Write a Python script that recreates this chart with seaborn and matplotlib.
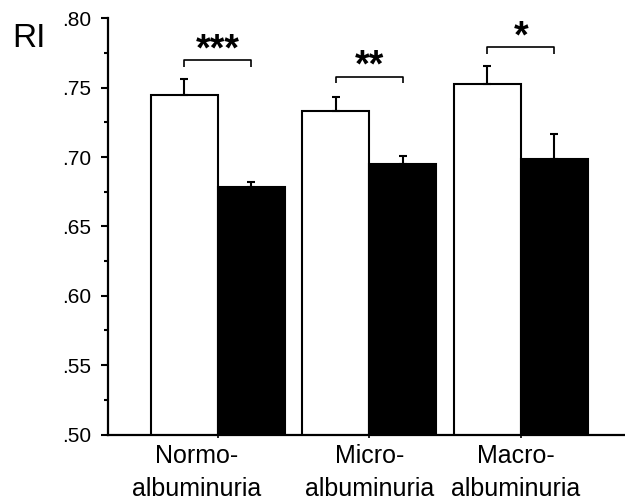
import matplotlib
matplotlib.use("Agg")
import matplotlib.pyplot as plt
import seaborn as sns
import pandas as pd
import numpy as np
from matplotlib.ticker import MultipleLocator, FuncFormatter

# ---- data ----
categories = ["Normo-\nalbuminuria", "Micro-\nalbuminuria", "Macro-\nalbuminuria"]
groups = ["A", "B"]
values_a = [0.7448, 0.7332, 0.7525]   # white bars
values_b = [0.6787, 0.6948, 0.6986]   # black bars
err_a = [0.0115, 0.0101, 0.0134]
err_b = [0.0036, 0.0062, 0.0181]
stars = ["***", "**", "*"]
bracket_top = [0.7699, 0.7579, 0.7793]
yticks = [0.50, 0.55, 0.60, 0.65, 0.70, 0.75, 0.80]

df = pd.DataFrame({
    "cat": categories * 2,
    "grp": [groups[0]] * 3 + [groups[1]] * 3,
    "val": values_a + values_b,
})

sns.set_style("ticks")
plt.rcParams["font.family"] = ["Liberation Sans", "DejaVu Sans"]
plt.rcParams["text.color"] = "black"
plt.rcParams["xtick.color"] = "black"
plt.rcParams["ytick.color"] = "black"
plt.rcParams["axes.edgecolor"] = "black"

fig = plt.figure(figsize=(6.25, 5.04), dpi=100)
ax = fig.add_axes([108 / 625, 1 - 434.5 / 504, 1 - 108 / 625, (434.5 - 18.3) / 504])

sns.barplot(data=df, x="cat", y="val", hue="grp", order=categories,
            hue_order=groups, palette={"A": "white", "B": "black"},
            edgecolor="black", linewidth=1.5, width=0.885, gap=0,
            errorbar=None, legend=False, ax=ax)

# error bars (upper only), taken from the drawn bars
patches = sorted([p for p in ax.patches if p.get_height() > 0], key=lambda p: p.get_x())
errs = []
for i in range(3):
    errs += [err_a[i], err_b[i]]
xs = [p.get_x() + p.get_width() / 2 for p in patches]
hs = [p.get_height() for p in patches]
ax.errorbar(xs, hs, yerr=[np.zeros(len(errs)), errs], fmt="none",
            ecolor="black", elinewidth=1.5, capsize=3, capthick=1.5, zorder=5)

# significance brackets
tip = 0.0047
for i in range(3):
    xl, xr = xs[2 * i], xs[2 * i + 1]
    yt = bracket_top[i]
    ax.plot([xl, xl, xr, xr], [yt - tip, yt, yt, yt - tip], color="black", lw=1.2,
            solid_capstyle="butt", clip_on=False)
    ax.annotate(stars[i], xy=((xl + xr) / 2, yt), xytext=(0, 0),
                textcoords="offset points", ha="center", va="baseline",
                fontsize=27, fontweight="bold", color="black", annotation_clip=False)

ax.set_ylim(0.50, 0.80)
ax.set_xlim(-0.726, 2.687)
ax.set_yticks(yticks)
ax.yaxis.set_major_formatter(FuncFormatter(lambda v, p: f"{v:.2f}".lstrip("0")))
ax.yaxis.set_minor_locator(MultipleLocator(0.025))
ax.tick_params(axis="y", which="major", length=5, width=1.5, labelsize=15, pad=7,
               color="black", labelcolor="black")
ax.tick_params(axis="y", which="minor", length=3, width=1.5, color="black")
ax.set_xticks([0, 1, 2])
ax.set_xticklabels(["", "", ""])
ax.tick_params(axis="x", length=2.5, width=1.2, color="black")
ax.set_xlabel("")
ax.set_ylabel("")
for s in ["top", "right"]:
    ax.spines[s].set_visible(False)
for s in ["left", "bottom"]:
    ax.spines[s].set_linewidth(1.6)
    ax.spines[s].set_color("black")

label_dx = [-0.139, 0.0, -0.033]
for i, c in enumerate(categories):
    ax.annotate(c, xy=(i + label_dx[i], 0), xycoords=("data", "axes fraction"),
                xytext=(0, -7), textcoords="offset points", ha="center", va="top",
                fontsize=18, linespacing=1.45, color="black", annotation_clip=False)

fig.text(12 / 625, 1 - 47 / 504, "RI", fontsize=24, ha="left", va="baseline", color="black")

fig.savefig("out.png", dpi=100)
